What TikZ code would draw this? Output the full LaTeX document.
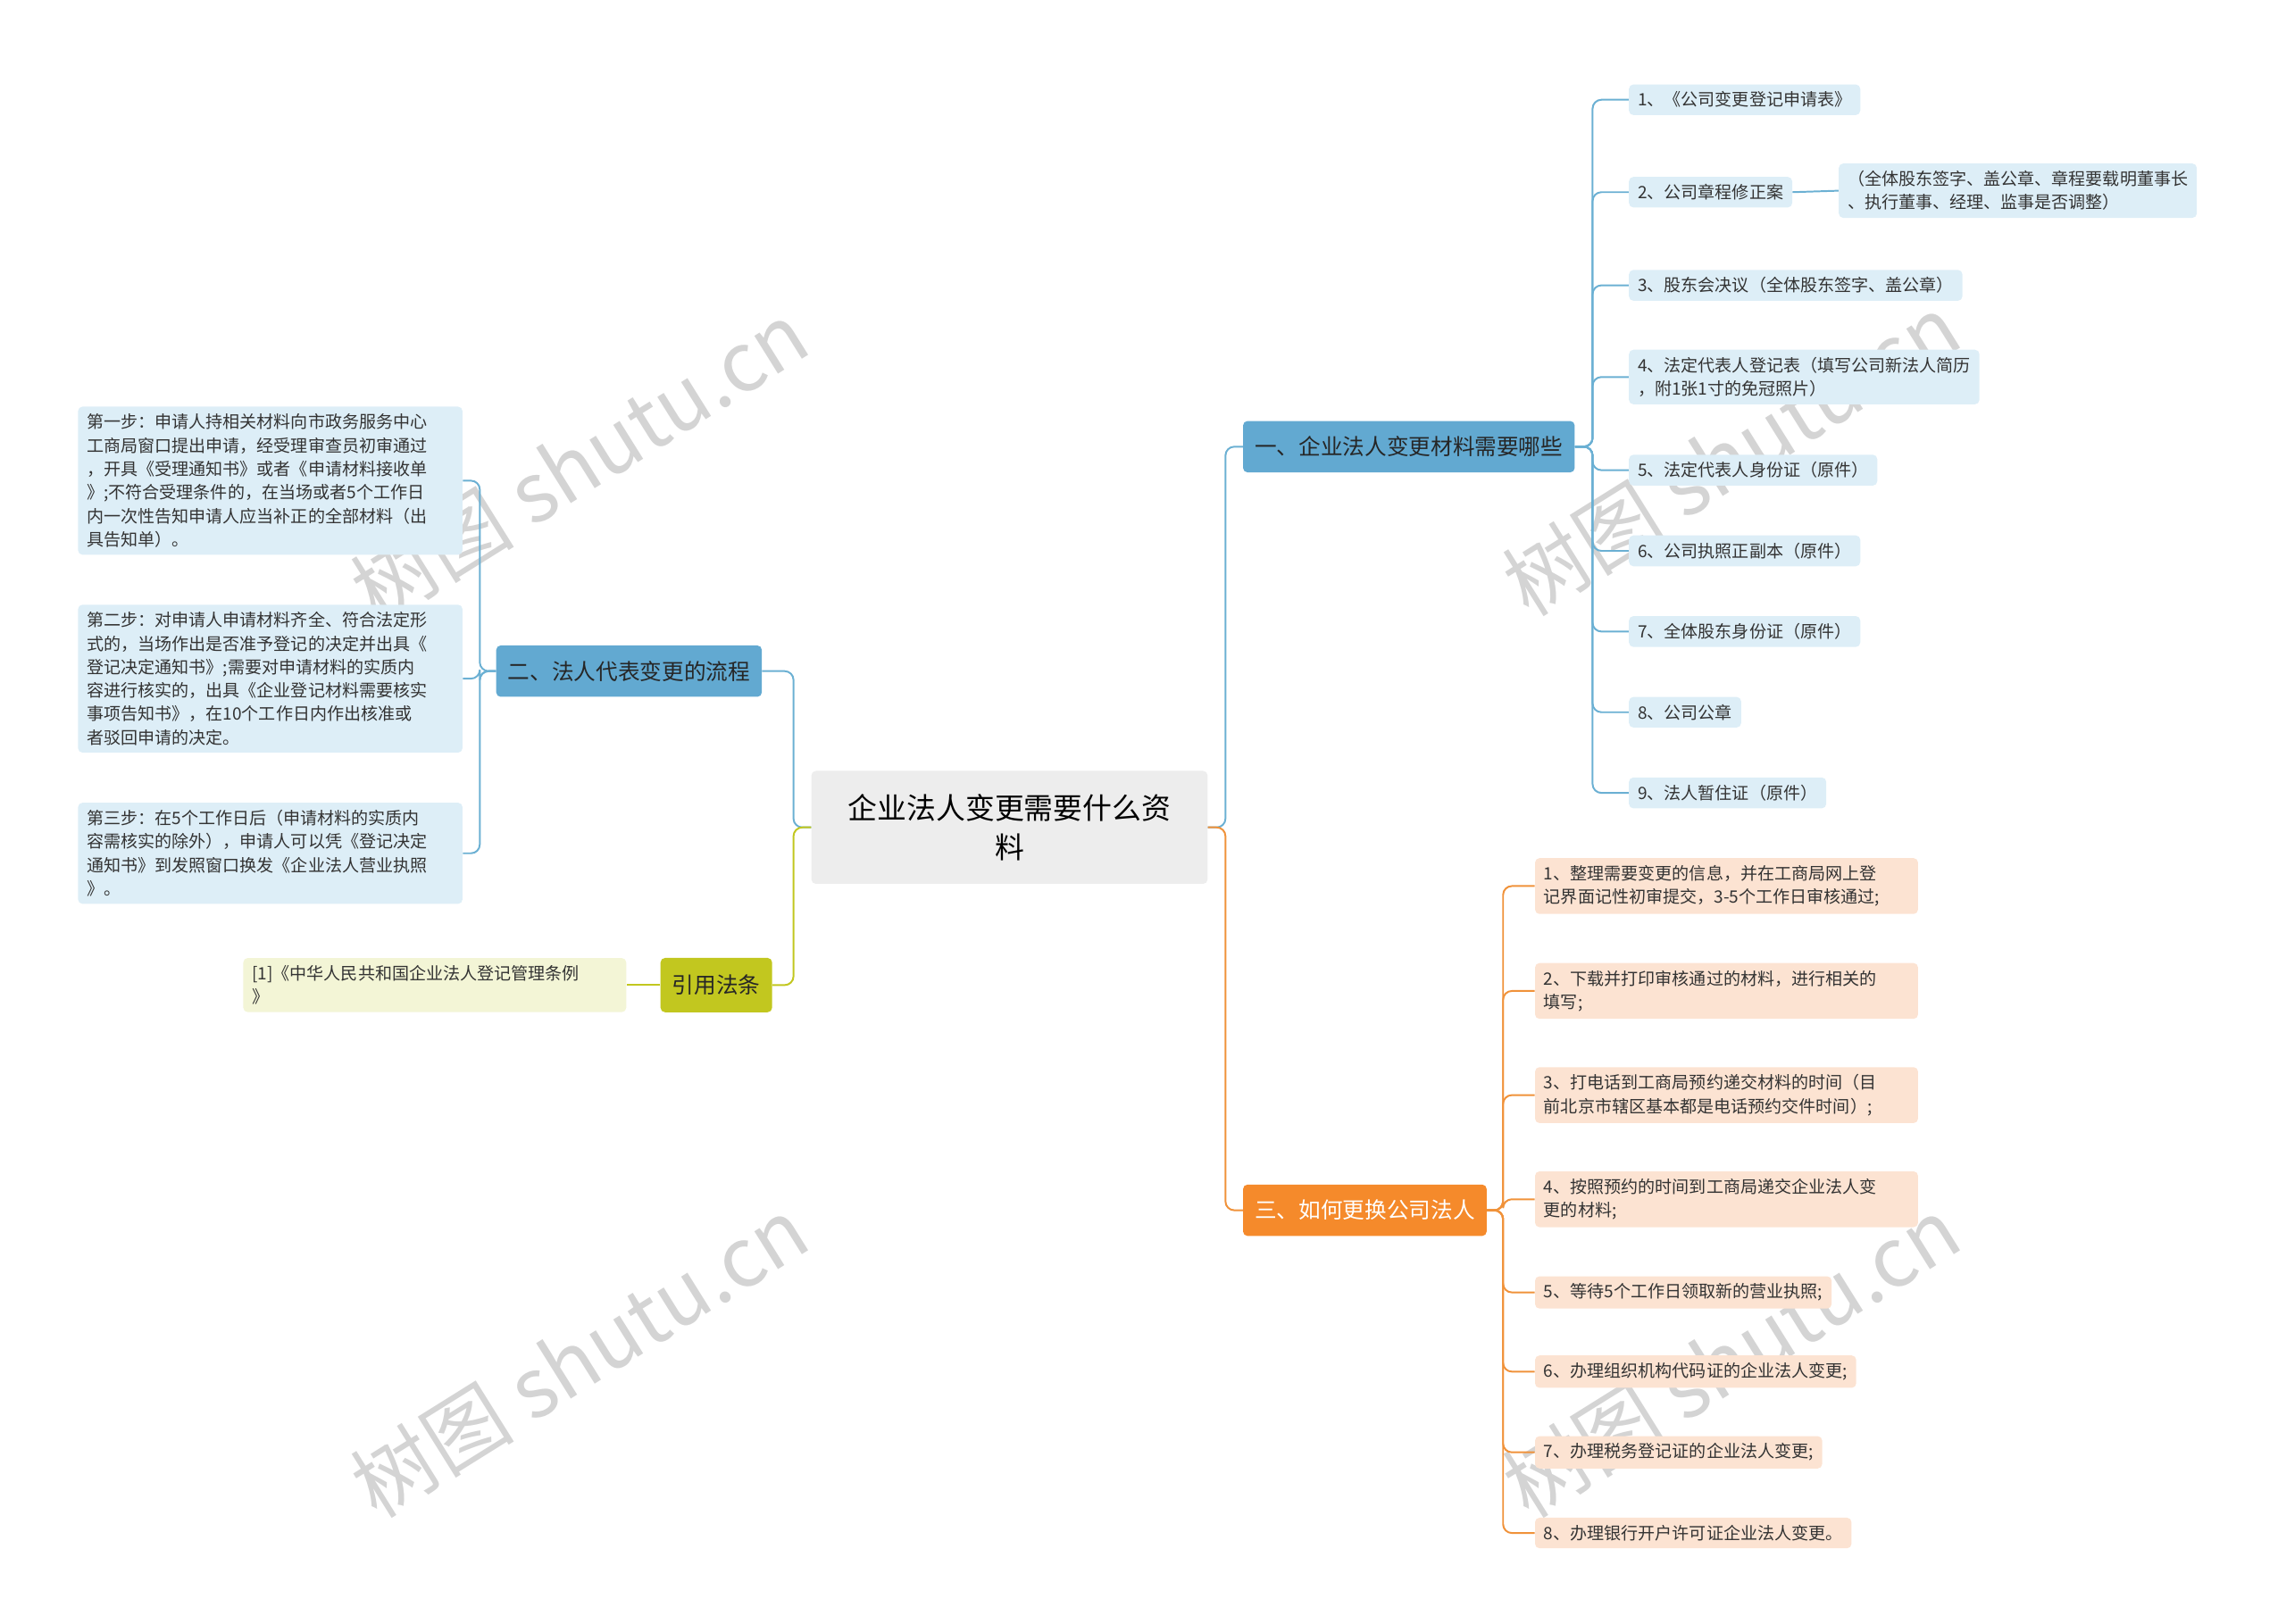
\documentclass[tikz,border=0pt]{standalone}
\usepackage{fontspec}
\setmainfont{Noto Sans CJK SC}
\begin{document}
\begin{tikzpicture}[x=1pt,y=-1pt,
 leafb/.style={fill=blueL,rounded corners=3pt,inner xsep=6pt,inner ysep=5pt,font=\fontsize{11.6}{16}\selectfont,align=left,anchor=west,text=black!80},
 leafo/.style={leafb,fill=orangeL},
 br/.style={rounded corners=3pt,inner xsep=8pt,font=\fontsize{15}{18}\selectfont,minimum height=35pt,anchor=west,text=black!85},
 cb/.style={draw=blueC,line width=1.2pt,rounded corners=6pt},
 co/.style={draw=orangeC,line width=1.2pt,rounded corners=6pt},
 cg/.style={draw=greenC,line width=1.2pt,rounded corners=6pt},
 wm/.style={text=black!17,font=\fontsize{56}{56}\selectfont,rotate=32}]
\definecolor{blueL}{HTML}{DDEEF7}
\definecolor{blueC}{HTML}{6BB0D3}
\definecolor{blueB}{HTML}{62A9D1}
\definecolor{orangeL}{HTML}{FCE3D2}
\definecolor{orangeC}{HTML}{F0923A}
\definecolor{orangeB}{HTML}{F58A2B}
\definecolor{greenC}{HTML}{C2C71F}
\definecolor{greenL}{HTML}{F3F5D6}
\useasboundingbox (0,0) rectangle (1558,1107);
% watermarks
\node[wm] at (395,315) {树图 shutu.cn};
\node[wm] at (395,925) {树图 shutu.cn};
\node[wm] at (1180,310) {树图 shutu.cn};
\node[wm] at (1180,925) {树图 shutu.cn};
% center
\node[fill=black!7,rounded corners=3pt,minimum width=270pt,minimum height=77pt,align=center,font=\fontsize{20}{27}\selectfont] (c) at (688,564) {企业法人变更需要什么资\\料};
% branches
\node[br,fill=blueB] (b1) at (847,304.5) {一、企业法人变更材料需要哪些};
\node[br,fill=blueB] (b2) at (338,457.5) {二、法人代表变更的流程};
\node[br,fill=orangeB,text=white] (b3) at (847,825) {三、如何更换公司法人};
\node[br,fill=greenC,minimum height=37pt] (b4) at (450,671.5) {引用法条};
\draw[cb] (c.east) -- ++(12,0) |- (b1.west);
\draw[co] (c.east) -- ++(12,0) |- (b3.west);
\draw[cb] (c.west) -- ++(-12,0) |- (b2.east);
\draw[cg] (c.west) -- ++(-12,0) |- (b4.east);
% branch 1 leaves
\node[leafb] (a1) at (1110,68) {1、《公司变更登记申请表》};
\node[leafb] (a2) at (1110,131) {2、公司章程修正案};
\node[leafb] (a2s) at (1253,130) {（全体股东签字、盖公章、章程要载明董事长\\、执行董事、经理、监事是否调整）};
\node[leafb] (a3) at (1110,194.5) {3、股东会决议（全体股东签字、盖公章）};
\node[leafb] (a4) at (1110,257) {4、法定代表人登记表（填写公司新法人简历\\，附1张1寸的免冠照片）};
\node[leafb] (a5) at (1110,320.5) {5、法定代表人身份证（原件）};
\node[leafb] (a6) at (1110,375.5) {6、公司执照正副本（原件）};
\node[leafb] (a7) at (1110,430.5) {7、全体股东身份证（原件）};
\node[leafb] (a8) at (1110,485.5) {8、公司公章};
\node[leafb] (a9) at (1110,540.5) {9、法人暂住证（原件）};
\foreach \n in {a1,a2,a3,a4,a5,a6,a7,a8,a9} \draw[cb] (b1.east) -- ++(12,0) |- (\n.west);
\draw[cb] (a2.east) -- (a2s.west);
% branch 2 leaves
\node[leafb,anchor=north west,text width=250pt] (s1) at (53,277) {第一步：申请人持相关材料向市政务服务中心\\工商局窗口提出申请，经受理审查员初审通过\\，开具《受理通知书》或者《申请材料接收单\\》;不符合受理条件的，在当场或者5个工作日\\内一次性告知申请人应当补正的全部材料（出\\具告知单）。};
\node[leafb,anchor=north west,text width=250pt] (s2) at (53,412) {第二步：对申请人申请材料齐全、符合法定形\\式的，当场作出是否准予登记的决定并出具《\\登记决定通知书》;需要对申请材料的实质内\\容进行核实的，出具《企业登记材料需要核实\\事项告知书》，在10个工作日内作出核准或\\者驳回申请的决定。};
\node[leafb,anchor=north west,text width=250pt] (s3) at (53,547) {第三步：在5个工作日后（申请材料的实质内\\容需核实的除外），申请人可以凭《登记决定\\通知书》到发照窗口换发《企业法人营业执照\\》。};
\foreach \n in {s1,s2,s3} \draw[cb] (b2.west) -- ++(-11,0) |- (\n.east);
% branch 3 leaves
\node[leafo,text width=249pt] (o1) at (1046,604) {1、整理需要变更的信息，并在工商局网上登\\记界面记性初审提交，3-5个工作日审核通过;};
\node[leafo,text width=249pt] (o2) at (1046,675.5) {2、下载并打印审核通过的材料，进行相关的\\填写;};
\node[leafo,text width=249pt] (o3) at (1046,746.5) {3、打电话到工商局预约递交材料的时间（目\\前北京市辖区基本都是电话预约交件时间）;};
\node[leafo,text width=249pt] (o4) at (1046,817.5) {4、按照预约的时间到工商局递交企业法人变\\更的材料;};
\node[leafo] (o5) at (1046,881) {5、等待5个工作日领取新的营业执照;};
\node[leafo] (o6) at (1046,935) {6、办理组织机构代码证的企业法人变更;};
\node[leafo] (o7) at (1046,990) {7、办理税务登记证的企业法人变更;};
\node[leafo] (o8) at (1046,1045) {8、办理银行开户许可证企业法人变更。};
\foreach \n in {o1,o2,o3,o4,o5,o6,o7,o8} \draw[co] (b3.east) -- ++(11,0) |- (\n.west);
% branch 4 leaf
\node[leafb,fill=greenL,text width=249pt,anchor=east] (g1) at (427,671.5) {[1]《中华人民共和国企业法人登记管理条例\\》};
\draw[cg] (b4.west) -- (g1.east);
\end{tikzpicture}
\end{document}
